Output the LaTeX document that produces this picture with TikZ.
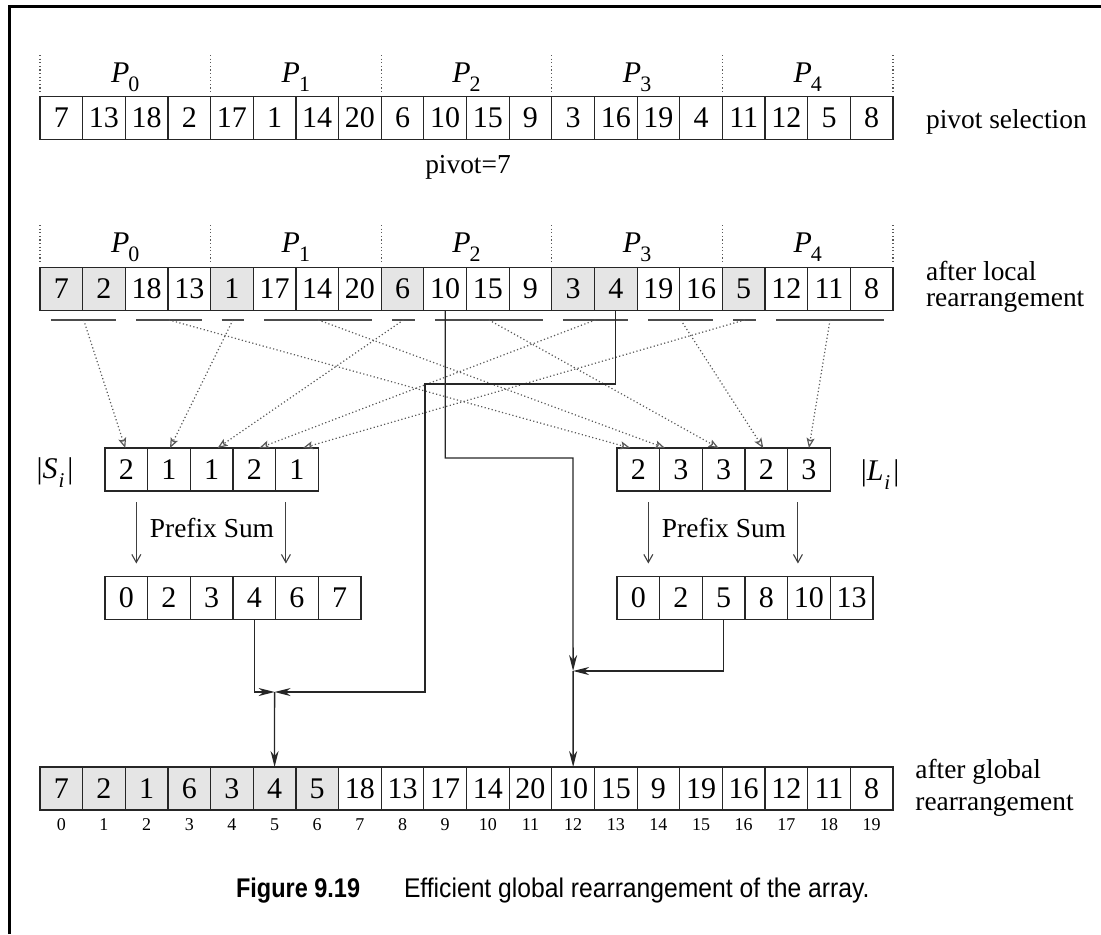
\documentclass[tikz,border=0pt]{standalone}
\usepackage{fontspec}
\setmainfont{Liberation Serif}
\newfontfamily\capfont{Liberation Sans}
\usetikzlibrary{arrows.meta,calc}

\newcommand\Psub[1]{\textit{P}\kern-0.5pt\raisebox{-0.32em}{\fontsize{11}{11}\selectfont #1}}
\newcommand\card[2]{|\textit{#1}\kern0.5pt\raisebox{-0.3em}{\fontsize{10.5}{10.5}\selectfont\itshape #2}\kern1.5pt|}

\begin{document}
\begin{tikzpicture}[x=0.5pt,y=-0.5pt,
    cell/.style={draw=black!85,line width=0.6pt,minimum width=21.33pt,minimum height=21.5pt,
      inner sep=0pt,outer sep=0pt,font=\fontsize{15}{15}\selectfont},
    lbl/.style={inner sep=0pt,font=\fontsize{13.7}{13.7}\selectfont},
    idx/.style={inner sep=0pt,font=\fontsize{9}{9}\selectfont},
    sep/.style={black!65,line width=0.6pt,dash pattern=on 0.6pt off 1.2pt},
    uline/.style={black!70,line width=0.65pt},
    dotarrow/.style={black!65,line width=0.6pt,dash pattern=on 0.6pt off 1.2pt,
      -{Stealth[open,length=5pt,width=4pt,inset=1pt]}},
    parrow/.style={black!75,line width=0.55pt,-{Straight Barb[length=4pt,width=4.5pt]}},
    conn/.style={black!85,line width=0.65pt,-{Stealth[length=8pt,width=4pt,inset=2.5pt]}}]
    \useasboundingbox (0,0) rectangle (1101,934);
    \draw[line width=1.7pt] (9.6,934) -- (9.6,6.7) -- (1101,6.7);

    % pivot selection row
    \foreach \v [count=\i from 0] in {7,13,18,2,17,1,14,20,6,10,15,9,3,16,19,4,11,12,5,8}
        \node[cell] (sel-\i) at ({40+42.65*(\i+0.5)},118) {\v};
    \node[lbl,anchor=base west] (sellbl) at (925.7,128) {pivot selection};
    \node[lbl,anchor=base] (pivot) at (468,173) {pivot=7};

    % after local rearrangement
    \foreach \v/\t [count=\i from 0] in {7/10,2/10,18/0,13/0,1/10,17/0,14/0,20/0,6/10,10/0,15/0,9/0,3/10,4/10,19/0,16/0,5/10,12/0,11/0,8/0}
        \node[cell,fill=black!\t] (loc-\i) at ({40+42.65*(\i+0.5)},289) {\v};
    \node[lbl,anchor=base west] (loclbl) at (925.7,280) {after local};
    \node[lbl,anchor=base west] (loclbl2) at (925.7,306) {rearrangement};

    \foreach \k in {0,...,4} {
        \node[lbl,anchor=base,font=\fontsize{15}{15}\selectfont] (ptop-\k) at ({40+170.6*(\k+0.5)},82) {\Psub{\k}};
        \node[lbl,anchor=base,font=\fontsize{15}{15}\selectfont] (ploc-\k) at ({40+170.6*(\k+0.5)},252) {\Psub{\k}};
    }
    \foreach \k in {0,...,5} {
        \draw[sep] ({40+170.6*\k},55) -- ({40+170.6*\k},92);
        \draw[sep] ({40+170.6*\k},225) -- ({40+170.6*\k},262);
    }

    % underlines of the S and L parts
    \foreach \a/\b/\n in {0/1/us0,2/3/ul0,4/4/us1,5/7/ul1,8/8/us2,9/11/ul2,12/13/us3,14/15/ul3,16/16/us4,17/19/ul4}
        \draw[uline] ([shift={(5.5pt,-4.7pt)}]loc-\a.south west) -- ([shift={(-4.5pt,-4.7pt)}]loc-\b.south east)
            coordinate[midway] (\n);

    % counts
    \foreach \v [count=\i from 0] in {2,1,1,2,1}
        \node[cell] (scnt-\i) at ({105+42.65*(\i+0.5)},469.5) {\v};
    \foreach \v [count=\i from 0] in {2,3,3,2,3}
        \node[cell] (lcnt-\i) at ({617+42.65*(\i+0.5)},469.5) {\v};
    \node[lbl,anchor=base,font=\fontsize{15}{15}\selectfont] (slbl) at (55,478) {\card{S}{i}};
    \node[lbl,anchor=base,font=\fontsize{15}{15}\selectfont] (llbl) at (880,480) {\card{L}{i}};

    \foreach \s/\d/\o in {us0/scnt-0/-1,us1/scnt-1/1,us2/scnt-2/6,us3/scnt-3/5,us4/scnt-4/6,
                          ul0/lcnt-0/-8,ul1/lcnt-1/-16,ul2/lcnt-2/-5,ul3/lcnt-3/-3,ul4/lcnt-4/0}
        \draw[dotarrow] (\s) -- ([xshift=\o*0.5pt]\d.north);

    % prefix sums
    \foreach \v [count=\i from 0] in {0,2,3,4,6,7}
        \node[cell] (spre-\i) at ({105+42.65*(\i+0.5)},598) {\v};
    \foreach \v [count=\i from 0] in {0,2,5,8,10,13}
        \node[cell] (lpre-\i) at ({617+42.65*(\i+0.5)},598) {\v};
    \draw[parrow] ([shift={(5pt,-5.5pt)}]scnt-0.south) -- ([shift={(5pt,6.5pt)}]spre-0.north);
    \draw[parrow] ([shift={(-5.5pt,-5.5pt)}]scnt-4.south) -- ([shift={(-5.5pt,6.5pt)}]spre-4.north);
    \draw[parrow] ([shift={(5pt,-5.5pt)}]lcnt-0.south) -- ([shift={(5pt,6.5pt)}]lpre-0.north);
    \draw[parrow] ([shift={(-5.5pt,-5.5pt)}]lcnt-4.south) -- ([shift={(-5.5pt,6.5pt)}]lpre-4.north);
    \node[lbl,anchor=base] (spfx) at (212,537) {Prefix Sum};
    \node[lbl,anchor=base] (lpfx) at (724,537) {Prefix Sum};

    % after global rearrangement
    \foreach \v/\t [count=\i from 0] in {7/10,2/10,1/10,6/10,3/10,4/10,5/10,18/0,13/0,17/0,14/0,20/0,10/0,15/0,9/0,19/0,16/0,12/0,11/0,8/0} {
        \node[cell,fill=black!\t] (glob-\i) at ({40+42.65*(\i+0.5)},788.5) {\v};
        \node[idx,anchor=base] (gidx-\i) at ({40+42.65*(\i+0.5)},830) {\i};
    }
    \node[lbl,anchor=base west] (globlbl) at (915,778) {after global};
    \node[lbl,anchor=base west] (globlbl2) at (915,810) {rearrangement};

    % moving the pieces
    \coordinate (sbend) at (425,384);
    \coordinate (lbend) at (573,458);
    \coordinate (j1) at (274.6,692);
    \coordinate (j2) at (573.1,671);
    \draw[conn] (spre-3.south) |- (j1);
    \draw[conn] (loc-13.south) |- (sbend) |- (j1);
    \draw[conn] (j1) -- (glob-5.north);
    \draw[conn] (loc-9.south) |- (lbend) -- (j2);
    \draw[conn] (lpre-2.south) |- (j2);
    \draw[conn] (j2) -- (glob-12.north);

    \node[anchor=base west,inner sep=0pt,font=\capfont\fontsize{13.5}{13.5}\selectfont] (capnum) at (235.7,897) {\scalebox{0.87}[1]{\bfseries Figure 9.19}};
    \node[anchor=base west,inner sep=0pt,font=\capfont\fontsize{13.5}{13.5}\selectfont] (captxt) at (403.6,897) {\scalebox{0.914}[1]{Efficient global rearrangement of the array.}};
\end{tikzpicture}
\end{document}
